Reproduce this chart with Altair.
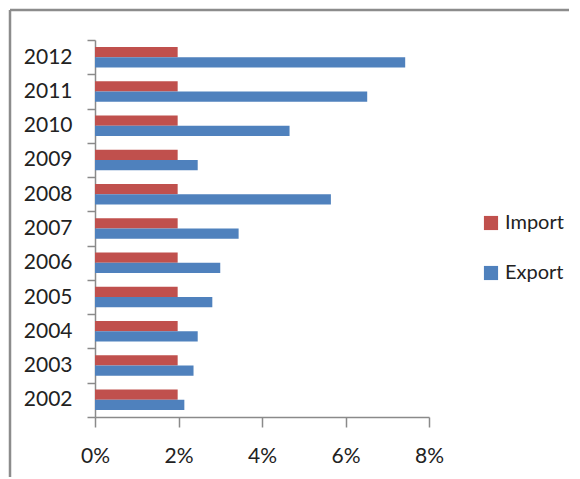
import altair as alt
import pandas as pd

years = ["2002", "2003", "2004", "2005", "2006", "2007", "2008", "2009", "2010", "2011", "2012"]
import_vals = [0.0198, 0.0198, 0.0198, 0.0198, 0.0198, 0.0198, 0.0198, 0.0198, 0.0198, 0.0198, 0.0198]
export_vals = [0.0214, 0.0236, 0.0246, 0.0281, 0.0300, 0.0344, 0.0565, 0.0246, 0.0466, 0.0652, 0.0743]
series = ["Import", "Export"]
colors = ["#C0504D", "#4F81BD"]
x_ticks = [0, 0.02, 0.04, 0.06, 0.08]

rows = []
for y, i, e in zip(years, import_vals, export_vals):
    rows.append({"year": y, "series": "Import", "value": i})
    rows.append({"year": y, "series": "Export", "value": e})
df = pd.DataFrame(rows)

FONT = "Lato, sans-serif"

bars = alt.Chart(df).mark_bar().encode(
    x=alt.X("value:Q", scale=alt.Scale(domain=[0, 0.08], nice=False),
            axis=alt.Axis(values=x_ticks, format=".0%", grid=False, title=None,
                          labelFontSize=21, labelFont=FONT, labelColor="#222222",
                          labelFlush=False,
                          domainColor="#8a8a8a", tickColor="#8a8a8a", tickSize=10,
                          labelPadding=18, domainWidth=1.5, tickWidth=1.5)),
    y=alt.Y("year:N", sort=list(reversed(years)),
            scale=alt.Scale(paddingInner=0, paddingOuter=0),
            axis=alt.Axis(title=None, tickBand="extent", labelFontSize=21, labelFont=FONT,
                          labelColor="#222222", domainColor="#8a8a8a", tickColor="#8a8a8a",
                          tickSize=8, labelPadding=15, domainWidth=1.5, tickWidth=1.5)),
    yOffset=alt.YOffset("series:N", sort=series,
                        scale=alt.Scale(paddingInner=0, paddingOuter=0.67)),
    color=alt.Color("series:N", sort=series,
                    scale=alt.Scale(domain=series, range=colors),
                    legend=alt.Legend(title=None, orient="none", legendX=386, legendY=173,
                                      symbolType="square", symbolSize=200, symbolStrokeWidth=0,
                                      labelFontSize=20, labelFont=FONT, labelColor="#222222",
                                      rowPadding=30, labelOffset=4)),
)

frame_data = alt.Data(values=[{"a": 1}])
top_rule = alt.Chart(frame_data).mark_rule(color="#8c8c8c", strokeWidth=2.5).encode(
    x=alt.value(-85), x2=alt.value(500), y=alt.value(-30))
left_rule = alt.Chart(frame_data).mark_rule(color="#8c8c8c", strokeWidth=2.5).encode(
    x=alt.value(-85), y=alt.value(-30), y2=alt.value(480))

chart = alt.layer(bars, top_rule, left_rule).properties(
    width=334, height=377,
    autosize=alt.AutoSizeParams(type="none"),
    padding={"left": 87, "top": 32, "right": 140, "bottom": 60},
).configure_view(stroke=None)

chart.save("out.html", embed_options={"renderer": "svg", "actions": False})
